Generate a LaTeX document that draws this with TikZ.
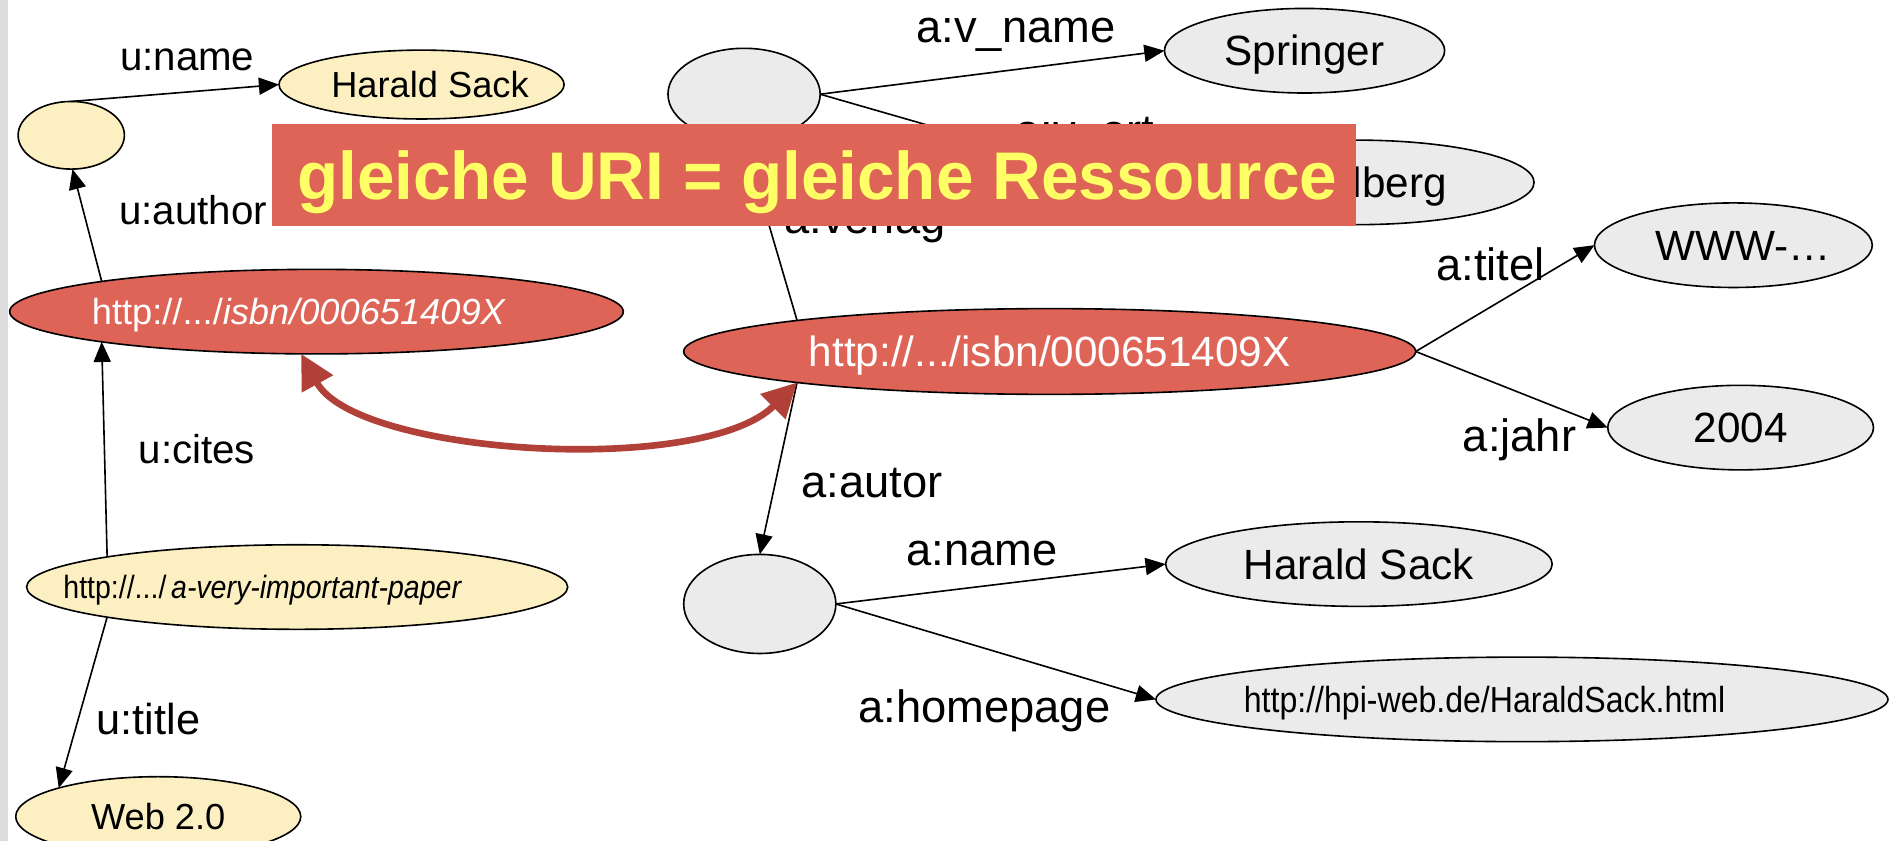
\documentclass[tikz,border=0pt]{standalone}
\usepackage{fontspec}
\usepackage{graphicx}
\setmainfont{Liberation Sans}
\usetikzlibrary{arrows.meta,calc,shapes.geometric}
\definecolor{nodered}{RGB}{221,100,87}
\definecolor{arrowred}{RGB}{176,64,56}
\definecolor{nodeyellow}{RGB}{252,240,194}
\definecolor{nodegrey}{RGB}{235,235,235}
\definecolor{banneryellow}{RGB}{255,255,102}
\definecolor{bargrey}{RGB}{220,220,222}
\newcommand{\txtshift}[2]{\makebox[0pt]{\kern#1\relax #2\kern-#1\relax}}
\begin{document}
\begin{tikzpicture}[x=0.6pt,y=-0.6pt,
  every node/.style={inner sep=0pt, outer sep=0pt},
  ell/.style={ellipse, draw=black, line width=0.8pt, inner sep=0pt},
  yel/.style={ell, fill=nodeyellow},
  gry/.style={ell, fill=nodegrey},
  rednode/.style={ell, fill=nodered, text=white},
  yeltxt/.style={font=\fontsize{18}{22}\selectfont, text height=12.9pt, text depth=0pt},
  grytxt/.style={font=\fontsize{21}{25}\selectfont, text height=15pt, text depth=0pt},
  conn/.style={draw=black, line width=0.8pt, -{Triangle[length=10pt,width=8.5pt]}},
  redarrow/.style={draw=arrowred, line width=3.3pt, {Triangle[length=17pt,width=17pt]}-{Triangle[length=17pt,width=17pt]}},
  lblL/.style={font=\fontsize{20}{24}\selectfont, anchor=base},
  lblR/.style={font=\fontsize{22.5}{27}\selectfont, anchor=base},
  banner/.style={fill=nodered, minimum width=538.8pt, minimum height=50.4pt},
  bannertxt/.style={font=\bfseries\fontsize{33.5}{40}\selectfont, text=banneryellow, anchor=base}
]
\useasboundingbox (0,0) rectangle (1568,696);
\clip (0,0) rectangle (1568,696);
\fill[bargrey] (0,0) rectangle (7,696);

% nodes
\node[yel, minimum width=52.8pt, minimum height=33.6pt] (ublank) at (59,112) {};
\node[yel, yeltxt, minimum width=141.6pt, minimum height=34.2pt] (hsack1) at (349,70) {\txtshift{4.2pt}{Harald Sack}};
\node[rednode, minimum width=304.8pt, minimum height=42pt, font=\fontsize{18}{22}\selectfont, text height=12.9pt, text depth=0pt] (isbnL) at (262,258) {\txtshift{-8.7pt}{http://.../\textit{isbn/000651409X}}};
\node[rednode, minimum width=363.6pt, minimum height=42.6pt, font=\fontsize{21}{25}\selectfont, text height=15pt, text depth=0pt] (isbnR) at (869,291) {http://.../isbn/000651409X};
\node[yel, minimum width=268.8pt, minimum height=42pt, font=\fontsize{16}{19}\selectfont, text height=11.5pt, text depth=0pt] (paper) at (246,486) {\txtshift{-17.1pt}{\scalebox{0.885}[1]{http://.../\,\textit{a-very-important-paper}}}};
\node[yel, yeltxt, minimum width=141.6pt, minimum height=39.6pt] (web20) at (131,676) {Web 2.0};
\node[gry, minimum width=75.6pt, minimum height=45.6pt] (vblank) at (616,78) {};
\node[gry, grytxt, minimum width=139.2pt, minimum height=42pt] (springer) at (1080,42) {Springer};
\node[gry, grytxt, minimum width=176.4pt, minimum height=42pt] (heidel) at (1123,151) {\txtshift{-6pt}{Heidelberg}};
\node[gry, grytxt, minimum width=138pt, minimum height=42pt] (www) at (1435,203) {\txtshift{4.8pt}{WWW-…}};
\node[gry, grytxt, minimum width=132pt, minimum height=42pt] (y2004) at (1441,354) {2004};
\node[gry, minimum width=75.6pt, minimum height=49.2pt] (ablank) at (629,500) {};
\node[gry, grytxt, minimum width=192pt, minimum height=42pt] (hsack2) at (1125,467) {Harald Sack};
\node[gry, minimum width=363.6pt, minimum height=42pt, font=\fontsize{18}{22}\selectfont, text height=12.9pt, text depth=0pt] (homepage) at (1260,579) {\txtshift{-18.6pt}{\scalebox{0.885}[1]{http://hpi-web.de/HaraldSack.html}}};

% connectors
\draw[conn] (ublank.north) -- (hsack1.west);
\draw[conn] (isbnL.172) -- (ublank.-88);
\draw[conn] (paper.171) -- (isbnL.188);
\draw[conn] (paper.189) -- (web20.164);
\draw[conn] (vblank.east) -- (springer.west);
\draw[conn] (vblank.east) -- (heidel.190);
\draw[conn] (isbnR.173) -- (vblank.south);
\draw[conn] (isbnR.187) -- (ablank.north);
\draw[conn] (isbnR.east) -- (www.west);
\draw[conn] (isbnR.east) -- (y2004.west);
\draw[conn] (ablank.east) -- (hsack2.west);
\draw[conn] (ablank.east) -- (homepage.west);

\draw[redarrow] (isbnL.-110) .. controls ($(isbnL.-110)+(46,84)$) and ($(isbnR.187)+(-78,78)$) .. (isbnR.187);

% edge labels
\node[lblL] (lname) at (155,58.5) {u:name};
\node[lblL] (lauthor) at (160,186) {u:author};
\node[lblL] (lcites) at (163,384) {u:cites};
\node[lblL, font=\fontsize{21.5}{26}\selectfont] (ltitle) at (123,608) {u:title};
\node[lblR] (lvname) at (841,35) {a:v\_name};
\node[lblR] (lvort) at (898,121) {a:v\_ort};
\node[lblR] (lverlag) at (716,193) {a:verlag};
\node[lblR] (ltitel) at (1234,232) {a:titel};
\node[lblR] (ljahr) at (1258,374) {a:jahr};
\node[lblR] (lautor) at (722,412) {a:autor};
\node[lblR] (laname) at (813,468) {a:name};
\node[lblR] (lhomepage) at (815,598) {a:homepage};

% banner
\node[banner] (banner) at (674,145) {};
\node[bannertxt] (bannertext) at (676.5,165) {gleiche URI = gleiche Ressource};
\end{tikzpicture}
\end{document}
